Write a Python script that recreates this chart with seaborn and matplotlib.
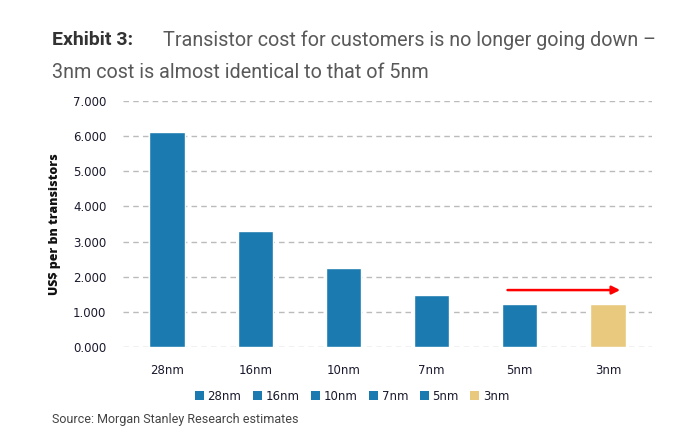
import matplotlib
matplotlib.use("Agg")
import matplotlib.pyplot as plt
import seaborn as sns
import pandas as pd
from matplotlib.patches import Patch

nodes = ["28nm", "16nm", "10nm", "7nm", "5nm", "3nm"]
cost = [6.12, 3.30, 2.25, 1.48, 1.22, 1.23]
colors = ["#1b7bb0", "#1b7bb0", "#1b7bb0", "#1b7bb0", "#1b7bb0", "#e8c97e"]
y_ticks = [0, 1, 2, 3, 4, 5, 6, 7]
arrow_y = 1.62

sns.set_style("white")
plt.rcParams['font.family'] = ['Roboto', 'DejaVu Sans']

df = pd.DataFrame({"node": nodes, "cost": cost})
fig = plt.figure(figsize=(6.77, 4.37), dpi=100)
ax = fig.add_axes([123/677, 1-347/437, (652-123)/677, (347-101)/437])

sns.barplot(data=df, x="node", y="cost", hue="node", order=nodes, hue_order=nodes,
            palette=dict(zip(nodes, colors)), width=0.4, dodge=False, legend=False, ax=ax,
            saturation=1)

tick_font = ["DejaVu Sans"]
ax.set_ylim(0, 7)
ax.set_xlim(-0.5, len(nodes) - 0.5)
ax.set_yticks(y_ticks)
ax.set_yticklabels([f"{v:.3f}" for v in y_ticks], fontsize=8.5, color="#1a1a2e",
                   family=tick_font)
ax.tick_params(axis="x", labelsize=8.5, colors="#1a1a2e", length=0, pad=12)
ax.tick_params(axis="y", length=0, pad=12)
for lab in ax.get_xticklabels():
    lab.set_family(tick_font)
ax.yaxis.grid(True, linestyle=(0, (4, 3)), color="#bbbbbb", linewidth=1)
ax.set_axisbelow(True)
for s in ax.spines.values():
    s.set_visible(False)
ax.set_xlabel("")
ax.set_ylabel("US$ per bn transistors", fontsize=8.9, fontweight="heavy", color="#111111",
              family=["Open Sans", "DejaVu Sans"])
ax.yaxis.set_label_coords(-(123 - 61) / 529, 0.5)

ax.annotate("", xy=(5.17, arrow_y), xytext=(3.83, arrow_y),
            arrowprops=dict(arrowstyle="-|>", color="#ff0000", lw=1.8, mutation_scale=12))

handles = [Patch(facecolor=c, edgecolor="none") for c in colors]
fig.legend(handles, nodes, loc="center", bbox_to_anchor=(352/677, 1 - 396/437), ncol=6,
           frameon=False, handlelength=0.75, handleheight=0.75,
           handletextpad=0.3, columnspacing=1.0,
           prop={"family": tick_font, "size": 8.5})
for t in fig.legends[0].get_texts():
    t.set_color("#1a1a2e")

fig.text(52/677, 1 - 40/437, "Exhibit 3:", fontsize=14, fontweight="bold", color="#333333",
         va="center", ha="left")
fig.text(163/677, 1 - 40/437, "Transistor cost for customers is no longer going down \u2013",
         fontsize=14.2, color="#595959", va="center", ha="left")
fig.text(52/677, 1 - 73/437, "3nm cost is almost identical to that of 5nm",
         fontsize=14.2, color="#595959", va="center", ha="left")
fig.text(52/677, 1 - 420/437, "Source: Morgan Stanley Research estimates",
         fontsize=9, color="#444444", va="center", ha="left")

fig.savefig("out.png", dpi=100)
